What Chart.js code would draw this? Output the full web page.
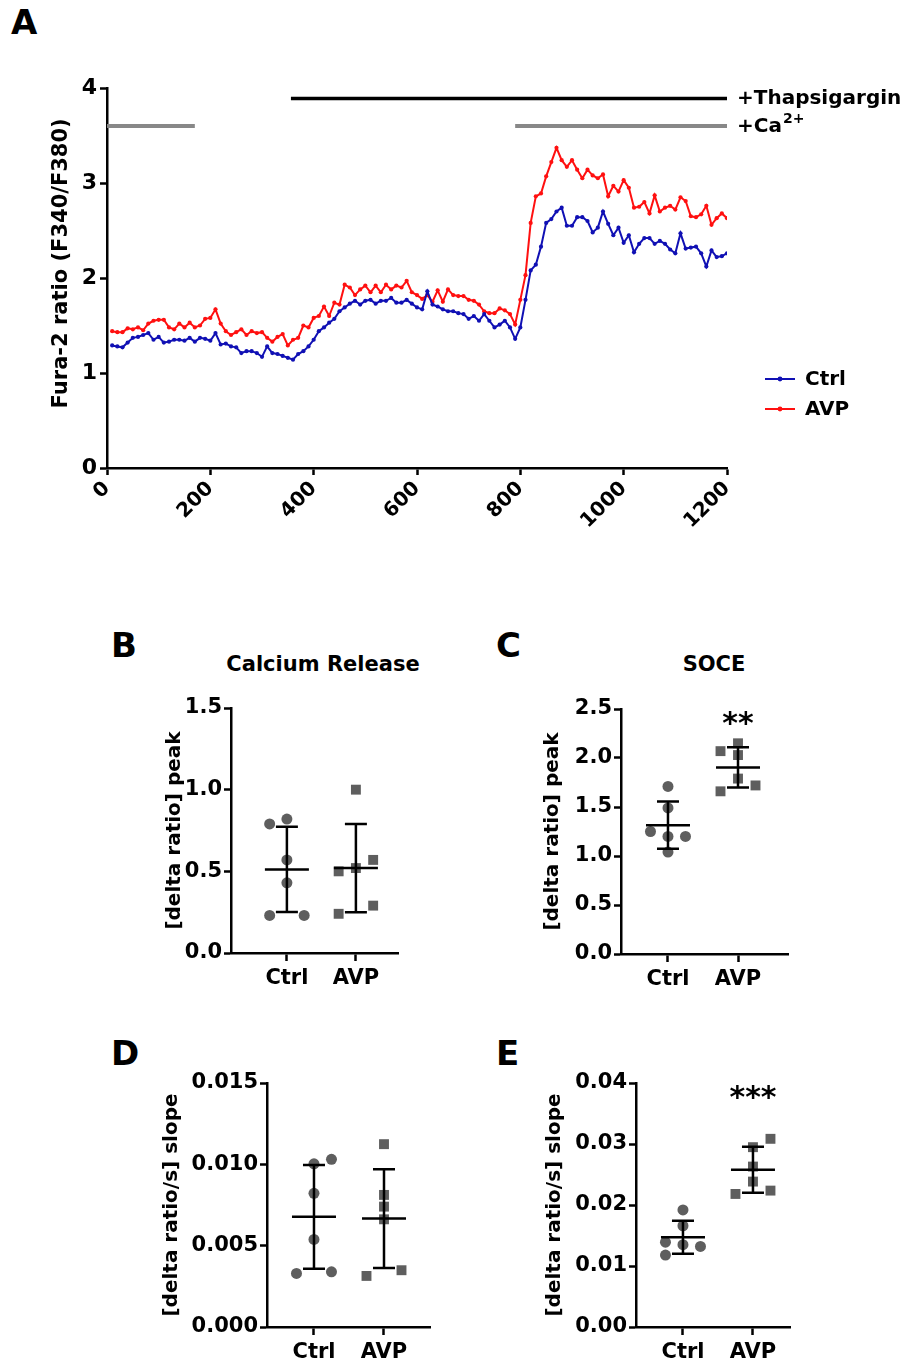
<!DOCTYPE html>
<html>
<head>
<meta charset="utf-8">
<script src="https://cdn.jsdelivr.net/npm/chart.js@4.4.0/dist/chart.umd.min.js"></script>
<style>
body { margin: 0; background: #fff; width: 903px; height: 1363px; position: relative; overflow: hidden; font-family: "DejaVu Sans", sans-serif; }
canvas { position: absolute; }
.lbl { position: absolute; font-weight: bold; color: #000; line-height: 1; white-space: nowrap; }
.ttl { transform: translateX(-50%); font-size: 21px; }
.letter { font-size: 34px; }
</style>
</head>
<body>
<div class="lbl letter" style="left:11px;top:5px">A</div>
<div class="lbl letter" style="left:111px;top:628px">B</div>
<div class="lbl letter" style="left:496px;top:628px">C</div>
<div class="lbl letter" style="left:111px;top:1036px">D</div>
<div class="lbl letter" style="left:496px;top:1036px">E</div>
<div class="lbl ttl" style="left:323px;top:654px">Calcium Release</div>
<div class="lbl ttl" style="left:714px;top:654px">SOCE</div>

<canvas id="chartA" width="903" height="490" style="left:0;top:60px"></canvas>
<canvas id="chartB" width="249" height="315" style="left:159px;top:688px"></canvas>
<canvas id="chartC" width="261" height="315" style="left:537px;top:689px"></canvas>
<canvas id="chartD" width="284" height="314" style="left:156px;top:1063px"></canvas>
<canvas id="chartE" width="261" height="314" style="left:539px;top:1063px"></canvas>

<script>
"use strict";

// ---- Panel A: mean Fura-2 traces ----
var timeSec = [10,20,30,40,50,60,70,80,90,100,110,120,130,140,150,160,170,180,190,200,
    210,220,230,240,250,260,270,280,290,300,310,320,330,340,350,360,370,380,390,400,
    410,420,430,440,450,460,470,480,490,500,510,520,530,540,550,560,570,580,590,600,
    610,620,630,640,650,660,670,680,690,700,710,720,730,740,750,760,770,780,790,800,
    810,820,830,840,850,860,870,880,890,900,910,920,930,940,950,960,970,980,990,1000,
    1010,1020,1030,1040,1050,1060,1070,1080,1090,1100,1110,1120,1130,1140,1150,1160,1170,1180,1190,1200];

var ctrlRatio = [1.29,1.28,1.27,1.32,1.37,1.38,1.40,1.42,1.35,1.38,
    1.32,1.33,1.35,1.35,1.34,1.37,1.33,1.37,1.36,1.34,
    1.42,1.30,1.31,1.28,1.27,1.21,1.23,1.23,1.21,1.17,
    1.28,1.21,1.20,1.18,1.16,1.14,1.20,1.23,1.28,1.35,
    1.44,1.48,1.53,1.57,1.65,1.69,1.73,1.76,1.72,1.76,
    1.77,1.73,1.76,1.76,1.79,1.74,1.74,1.77,1.73,1.69,
    1.67,1.86,1.72,1.70,1.67,1.65,1.65,1.63,1.62,1.57,
    1.60,1.55,1.62,1.55,1.48,1.51,1.55,1.48,1.36,1.48,
    1.77,2.08,2.14,2.33,2.58,2.62,2.70,2.74,2.55,2.55,
    2.64,2.64,2.60,2.48,2.53,2.70,2.57,2.45,2.53,2.37,
    2.45,2.27,2.36,2.42,2.42,2.36,2.39,2.36,2.30,2.26,
    2.47,2.31,2.32,2.33,2.26,2.12,2.29,2.22,2.23,2.26];

var avpRatio = [1.44,1.43,1.43,1.47,1.46,1.48,1.45,1.52,1.55,1.56,
    1.56,1.48,1.46,1.52,1.48,1.53,1.48,1.50,1.57,1.58,
    1.67,1.52,1.44,1.40,1.43,1.46,1.40,1.44,1.42,1.43,
    1.37,1.33,1.38,1.41,1.29,1.35,1.37,1.50,1.48,1.58,
    1.60,1.70,1.60,1.74,1.72,1.93,1.90,1.82,1.88,1.92,
    1.85,1.92,1.85,1.93,1.88,1.92,1.90,1.97,1.85,1.82,
    1.78,1.82,1.75,1.87,1.75,1.88,1.82,1.81,1.81,1.77,
    1.76,1.72,1.65,1.63,1.63,1.68,1.66,1.62,1.51,1.77,
    2.03,2.58,2.86,2.89,3.07,3.22,3.37,3.24,3.17,3.24,
    3.14,3.05,3.14,3.08,3.05,3.09,2.86,2.97,2.91,3.03,
    2.95,2.74,2.75,2.80,2.68,2.87,2.70,2.74,2.76,2.72,
    2.85,2.81,2.65,2.64,2.67,2.76,2.56,2.63,2.68,2.63];

var xTicksA = [0, 200, 400, 600, 800, 1000, 1200];
var yTicksA = [0, 1, 2, 3, 4];

// treatment periods (s) and the level the bar is drawn at
var thapsigarginPeriods = [[356, 1200]];
var calciumPeriods = [[0, 170], [790, 1200]];
var thapsigarginLevel = 3.89;
var calciumLevel = 3.6;

// ---- Panels B-E: single experiments ----
var groups = ["Ctrl", "AVP"];

var releaseCtrl = [0.79, 0.82, 0.57, 0.43, 0.23, 0.23];
var releaseCtrlJitter = [-0.25, 0, 0, 0, -0.25, 0.25];
var releaseAvp = [1.00, 0.57, 0.52, 0.50, 0.29, 0.24];
var releaseAvpJitter = [0, 0.25, 0, -0.25, 0.25, -0.25];

var soceCtrl = [1.71, 1.49, 1.25, 1.20, 1.20, 1.04];
var soceCtrlJitter = [0, 0, -0.25, 0, 0.25, 0];
var soceAvp = [2.07, 2.15, 2.03, 1.79, 1.66, 1.72];
var soceAvpJitter = [-0.25, 0, 0, 0, -0.25, 0.25];

var releaseSlopeCtrl = [0.00329, 0.01003, 0.01031, 0.00822, 0.00538, 0.00339];
var releaseSlopeCtrlJitter = [-0.25, 0, 0.25, 0, 0, 0.25];
var releaseSlopeAvp = [0.01124, 0.00812, 0.0074, 0.00662, 0.00314, 0.00349];
var releaseSlopeAvpJitter = [0, 0, 0, 0, -0.25, 0.25];

var soceSlopeCtrl = [0.0192, 0.0166, 0.0139, 0.0132, 0.0135, 0.0118];
var soceSlopeCtrlJitter = [0, 0, -0.25, 0.25, 0, -0.25];
var soceSlopeAvp = [0.03085, 0.02948, 0.0263, 0.02384, 0.02181, 0.02236];
var soceSlopeAvpJitter = [0.25, 0, 0, 0, -0.25, 0.25];

var yTicksB = [0, 0.5, 1.0, 1.5];
var yTicksC = [0, 0.5, 1.0, 1.5, 2.0, 2.5];
var yTicksD = [0, 0.005, 0.010, 0.015];
var yTicksE = [0, 0.01, 0.02, 0.03, 0.04];

var significanceC = ["", "**"];
var significanceE = ["", "***"];

// colours
var ctrlColor = "#1010b4";
var avpColor = "#ff1010";
var dotColor = "#5e5e5e";
var fontFamily = "'DejaVu Sans', sans-serif";

function boldFont(size) {
    return { family: fontFamily, size: size, weight: "bold" };
}

function periodDatasets(periods, level, color, width) {
    return periods.map(function(p) {
        return {
            data: [{ x: p[0], y: level }, { x: p[1], y: level }],
            showLine: true,
            borderColor: color,
            borderWidth: width,
            pointRadius: 0,
            borderCapStyle: "butt"
        };
    });
}

function traceDataset(values, color) {
    return {
        data: values.map(function(v, i) { return { x: timeSec[i], y: v }; }),
        showLine: true,
        borderColor: color,
        backgroundColor: color,
        borderWidth: 2,
        pointRadius: 2.1,
        pointBorderWidth: 0,
        pointBackgroundColor: color,
        tension: 0
    };
}

var traceDecorations = {
    id: "traceDecorations",
    afterDraw: function(chart) {
        var ctx = chart.ctx;
        var area = chart.chartArea;
        var y = chart.scales.y;
        var x0 = area.right + 10;
        ctx.save();
        ctx.fillStyle = "#000";
        ctx.textBaseline = "middle";
        ctx.textAlign = "left";
        ctx.font = "bold 20px " + fontFamily;
        ctx.fillText("+Thapsigargin", x0, y.getPixelForValue(thapsigarginLevel));
        var cy = y.getPixelForValue(calciumLevel);
        ctx.fillText("+Ca", x0, cy + 1);
        var w = ctx.measureText("+Ca").width;
        ctx.font = "bold 14px " + fontFamily;
        ctx.fillText("2+", x0 + w + 1, cy - 7);

        // legend
        var items = [{ label: "Ctrl", color: ctrlColor }, { label: "AVP", color: avpColor }];
        items.forEach(function(item, i) {
            var ly = area.top + 291 + i * 30;
            var lx = area.right + 38;
            ctx.strokeStyle = item.color;
            ctx.lineWidth = 2;
            ctx.beginPath();
            ctx.moveTo(lx, ly);
            ctx.lineTo(lx + 30, ly);
            ctx.stroke();
            ctx.fillStyle = item.color;
            ctx.beginPath();
            ctx.arc(lx + 15, ly, 2.4, 0, Math.PI * 2);
            ctx.fill();
            ctx.fillStyle = "#000";
            ctx.font = "bold 20px " + fontFamily;
            ctx.fillText(item.label, lx + 40, ly + 1);
        });
        ctx.restore();
    }
};

function axisGrid(tickLength) {
    return {
        display: true,
        drawOnChartArea: false,
        drawTicks: true,
        tickLength: tickLength,
        tickColor: "#000",
        tickWidth: 2.5
    };
}

new Chart(document.getElementById("chartA"), {
    type: "scatter",
    data: {
        datasets: [traceDataset(ctrlRatio, ctrlColor), traceDataset(avpRatio, avpColor)]
            .concat(periodDatasets(thapsigarginPeriods, thapsigarginLevel, "#000", 3.5))
            .concat(periodDatasets(calciumPeriods, calciumLevel, "#888", 4))
    },
    options: {
        responsive: false,
        animation: false,
        layout: { padding: { left: 45, top: 28, right: 176, bottom: 0 } },
        plugins: { legend: { display: false }, tooltip: { enabled: false } },
        scales: {
            x: {
                type: "linear",
                min: 0,
                max: 1200,
                afterBuildTicks: function(s) { s.ticks = xTicksA.map(function(v) { return { value: v }; }); },
                afterFit: function(s) { s.height = 82; },
                grid: axisGrid(7),
                border: { color: "#000", width: 2.5 },
                ticks: {
                    color: "#000", font: boldFont(20), minRotation: 45, maxRotation: 45, padding: 2, autoSkip: false,
                    callback: function(v) { return String(v); }
                }
            },
            y: {
                min: 0,
                max: 4,
                afterBuildTicks: function(s) { s.ticks = yTicksA.map(function(v) { return { value: v }; }); },
                afterFit: function(s) { s.width = 62; },
                grid: axisGrid(7),
                border: { color: "#000", width: 2.5 },
                ticks: { color: "#000", font: boldFont(22), padding: 3 },
                // leading spaces lift the centred title a little, as in the original
                title: { display: true, text: "    Fura-2 ratio (F340/F380)", color: "#000", font: boldFont(21) }
            }
        }
    },
    plugins: [traceDecorations]
});

function mean(arr) {
    return arr.reduce(function(a, b) { return a + b; }, 0) / arr.length;
}

function sd(arr) {
    var m = mean(arr);
    var ss = arr.reduce(function(a, b) { return a + (b - m) * (b - m); }, 0);
    return Math.sqrt(ss / (arr.length - 1));
}

var meanSdBars = {
    id: "meanSdBars",
    afterDatasetsDraw: function(chart, args, opts) {
        var ctx = chart.ctx;
        var xs = chart.scales.x;
        var ys = chart.scales.y;
        ctx.save();
        ctx.strokeStyle = "#000";
        ctx.lineWidth = 2.5;
        opts.sets.forEach(function(values, g) {
            var m = mean(values);
            var s = sd(values);
            var cx = xs.getPixelForValue(g);
            var pm = ys.getPixelForValue(m);
            var ph = ys.getPixelForValue(m + s);
            var pl = ys.getPixelForValue(m - s);
            ctx.beginPath();
            ctx.moveTo(cx - 22, pm); ctx.lineTo(cx + 22, pm);
            ctx.moveTo(cx, ph); ctx.lineTo(cx, pl);
            ctx.moveTo(cx - 11, ph); ctx.lineTo(cx + 11, ph);
            ctx.moveTo(cx - 11, pl); ctx.lineTo(cx + 11, pl);
            ctx.stroke();
        });
        if (opts.stars) {
            ctx.fillStyle = "#000";
            ctx.font = "bold 30px " + fontFamily;
            ctx.textAlign = "center";
            ctx.textBaseline = "middle";
            opts.stars.forEach(function(txt, g) {
                if (!txt) return;
                ctx.fillText(txt, xs.getPixelForValue(g), ys.getPixelForValue(ys.max) + 16);
            });
        }
        ctx.restore();
    }
};

function dotPanel(id, p) {
    var decimals = p.decimals;
    new Chart(document.getElementById(id), {
        type: "scatter",
        data: {
            datasets: [
                {
                    data: p.ctrl.map(function(v, i) { return { x: 0 + p.ctrlJitter[i], y: v }; }),
                    pointStyle: "circle",
                    pointRadius: 5.5,
                    borderWidth: 0,
                    backgroundColor: dotColor
                },
                {
                    data: p.avp.map(function(v, i) { return { x: 1 + p.avpJitter[i], y: v }; }),
                    pointStyle: "rect",
                    pointRadius: 7,
                    borderWidth: 0,
                    backgroundColor: dotColor
                }
            ]
        },
        options: {
            responsive: false,
            animation: false,
            layout: { padding: { left: 0, top: 20, right: 10, bottom: 0 } },
            plugins: {
                legend: { display: false },
                tooltip: { enabled: false },
                meanSdBars: { sets: [p.ctrl, p.avp], stars: p.stars }
            },
            scales: {
                x: {
                    type: "linear",
                    min: p.xMin,
                    max: p.xMax,
                    afterBuildTicks: function(s) { s.ticks = [{ value: 0 }, { value: 1 }]; },
                    afterFit: function(s) { s.height = 50; },
                    grid: axisGrid(8),
                    border: { color: "#000", width: 2.5 },
                    ticks: {
                        color: "#000",
                        font: boldFont(21),
                        padding: 5,
                        maxRotation: 0,
                        autoSkip: false,
                        callback: function(v) { return groups[v]; }
                    }
                },
                y: {
                    min: 0,
                    max: p.yTicks[p.yTicks.length - 1],
                    afterBuildTicks: function(s) { s.ticks = p.yTicks.map(function(v) { return { value: v }; }); },
                    afterFit: function(s) { s.width = p.yWidth; },
                    grid: axisGrid(7),
                    border: { color: "#000", width: 2.5 },
                    ticks: {
                        color: "#000",
                        font: boldFont(21),
                        padding: 2,
                        callback: function(v) { return Number(v).toFixed(decimals); }
                    },
                    title: { display: true, text: p.yTitle, color: "#000", font: boldFont(20) }
                }
            }
        },
        plugins: [meanSdBars]
    });
}

dotPanel("chartB", {
    ctrl: releaseCtrl, ctrlJitter: releaseCtrlJitter, avp: releaseAvp, avpJitter: releaseAvpJitter,
    yTicks: yTicksB, decimals: 1, yTitle: "[delta ratio] peak", yWidth: 72, xMin: -0.81, xMax: 1.61
});
dotPanel("chartC", {
    ctrl: soceCtrl, ctrlJitter: soceCtrlJitter, avp: soceAvp, avpJitter: soceAvpJitter,
    yTicks: yTicksC, decimals: 1, yTitle: "[delta ratio] peak", yWidth: 84, xMin: -0.671, xMax: 1.714,
    stars: significanceC
});
dotPanel("chartD", {
    ctrl: releaseSlopeCtrl, ctrlJitter: releaseSlopeCtrlJitter, avp: releaseSlopeAvp, avpJitter: releaseSlopeAvpJitter,
    yTicks: yTicksD, decimals: 3, yTitle: "[delta ratio/s] slope", yWidth: 111, xMin: -0.671, xMax: 1.657
});
dotPanel("chartE", {
    ctrl: soceSlopeCtrl, ctrlJitter: soceSlopeCtrlJitter, avp: soceSlopeAvp, avpJitter: soceSlopeAvpJitter,
    yTicks: yTicksE, decimals: 2, yTitle: "[delta ratio/s] slope", yWidth: 97, xMin: -0.671, xMax: 1.529,
    stars: significanceE
});
</script>
</body>
</html>
